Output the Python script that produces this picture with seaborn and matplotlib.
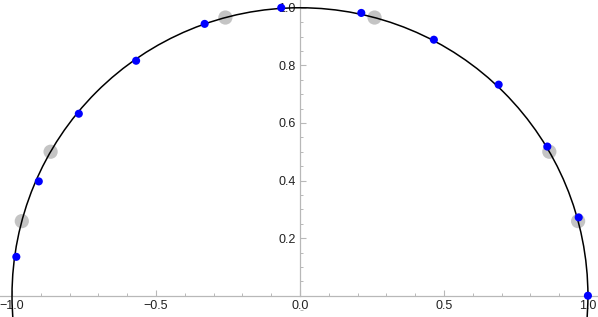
import numpy as np
import pandas as pd
import matplotlib
matplotlib.use("Agg")
import matplotlib.pyplot as plt
import seaborn as sns
from matplotlib.patches import Circle
from matplotlib.ticker import MultipleLocator, FixedLocator

# blue points sampled along the unit semicircle
blue_x = [-0.985, -0.907, -0.768, -0.569, -0.331, -0.065, 0.213, 0.465, 0.690, 0.859, 0.968, 1.000]
blue_y = [0.135, 0.397, 0.632, 0.816, 0.944, 1.000, 0.982, 0.889, 0.733, 0.518, 0.272, 0.000]

# larger gray reference points
gray_x = [-0.966, -0.866, -0.259, 0.259, 0.866, 0.966]
gray_y = [0.259, 0.500, 0.966, 0.966, 0.500, 0.259]

x_major = [-1.0, -0.5, 0.0, 0.5, 1.0]
y_major = [0.2, 0.4, 0.6, 0.8, 1.0]

sns.set_style("white")
plt.rcParams['font.family'] = ['Liberation Sans', 'DejaVu Sans']

blue_df = pd.DataFrame({'x': blue_x, 'y': blue_y})
gray_df = pd.DataFrame({'x': gray_x, 'y': gray_y})

fig = plt.figure(figsize=(5.98, 3.17), dpi=100)
ax = fig.add_axes([0, 0, 1, 1])

sns.scatterplot(data=gray_df, x='x', y='y', s=105, color='#c4c4c4',
                edgecolor='none', ax=ax, zorder=2)

# unit circle (clipped to the axes)
ax.add_patch(Circle((0, 0), 1.0, fill=False, edgecolor='black', linewidth=1.1, zorder=3))

sns.scatterplot(data=blue_df, x='x', y='y', s=34, color='#0000ff',
                edgecolor='none', ax=ax, zorder=4)

ax.set_xlim(-1.0417, 1.035)
ax.set_ylim(-0.073, 1.026)
ax.set_aspect('equal', adjustable='box')
ax.set_xlabel('')
ax.set_ylabel('')

axis_col = '#b8b8b8'
for side in ['top', 'right']:
    ax.spines[side].set_visible(False)
ax.spines['left'].set_position(('data', 0))
ax.spines['bottom'].set_position(('data', 0))
ax.spines['left'].set_bounds(0, 1.026)
for side in ['left', 'bottom']:
    ax.spines[side].set_color(axis_col)
    ax.spines[side].set_linewidth(0.9)
    ax.spines[side].set_zorder(1)

ax.xaxis.set_major_locator(FixedLocator(x_major))
ax.xaxis.set_minor_locator(MultipleLocator(0.1))
ax.yaxis.set_major_locator(FixedLocator(y_major))
ax.yaxis.set_minor_locator(MultipleLocator(0.05))
ax.set_xticklabels([f"{v:.1f}".replace('-', '\u2212') for v in x_major])
ax.set_yticklabels([f"{v:.1f}" for v in y_major])

ax.tick_params(axis='both', which='both', bottom=True, left=True, top=False, right=False)
ax.tick_params(axis='both', which='major', direction='in', length=4, width=0.8,
               color=axis_col, labelsize=9, labelcolor='#222222', pad=3)
ax.tick_params(axis='both', which='minor', direction='in', length=2.5, width=0.7,
               color=axis_col)

fig.savefig('out.png', dpi=100)
